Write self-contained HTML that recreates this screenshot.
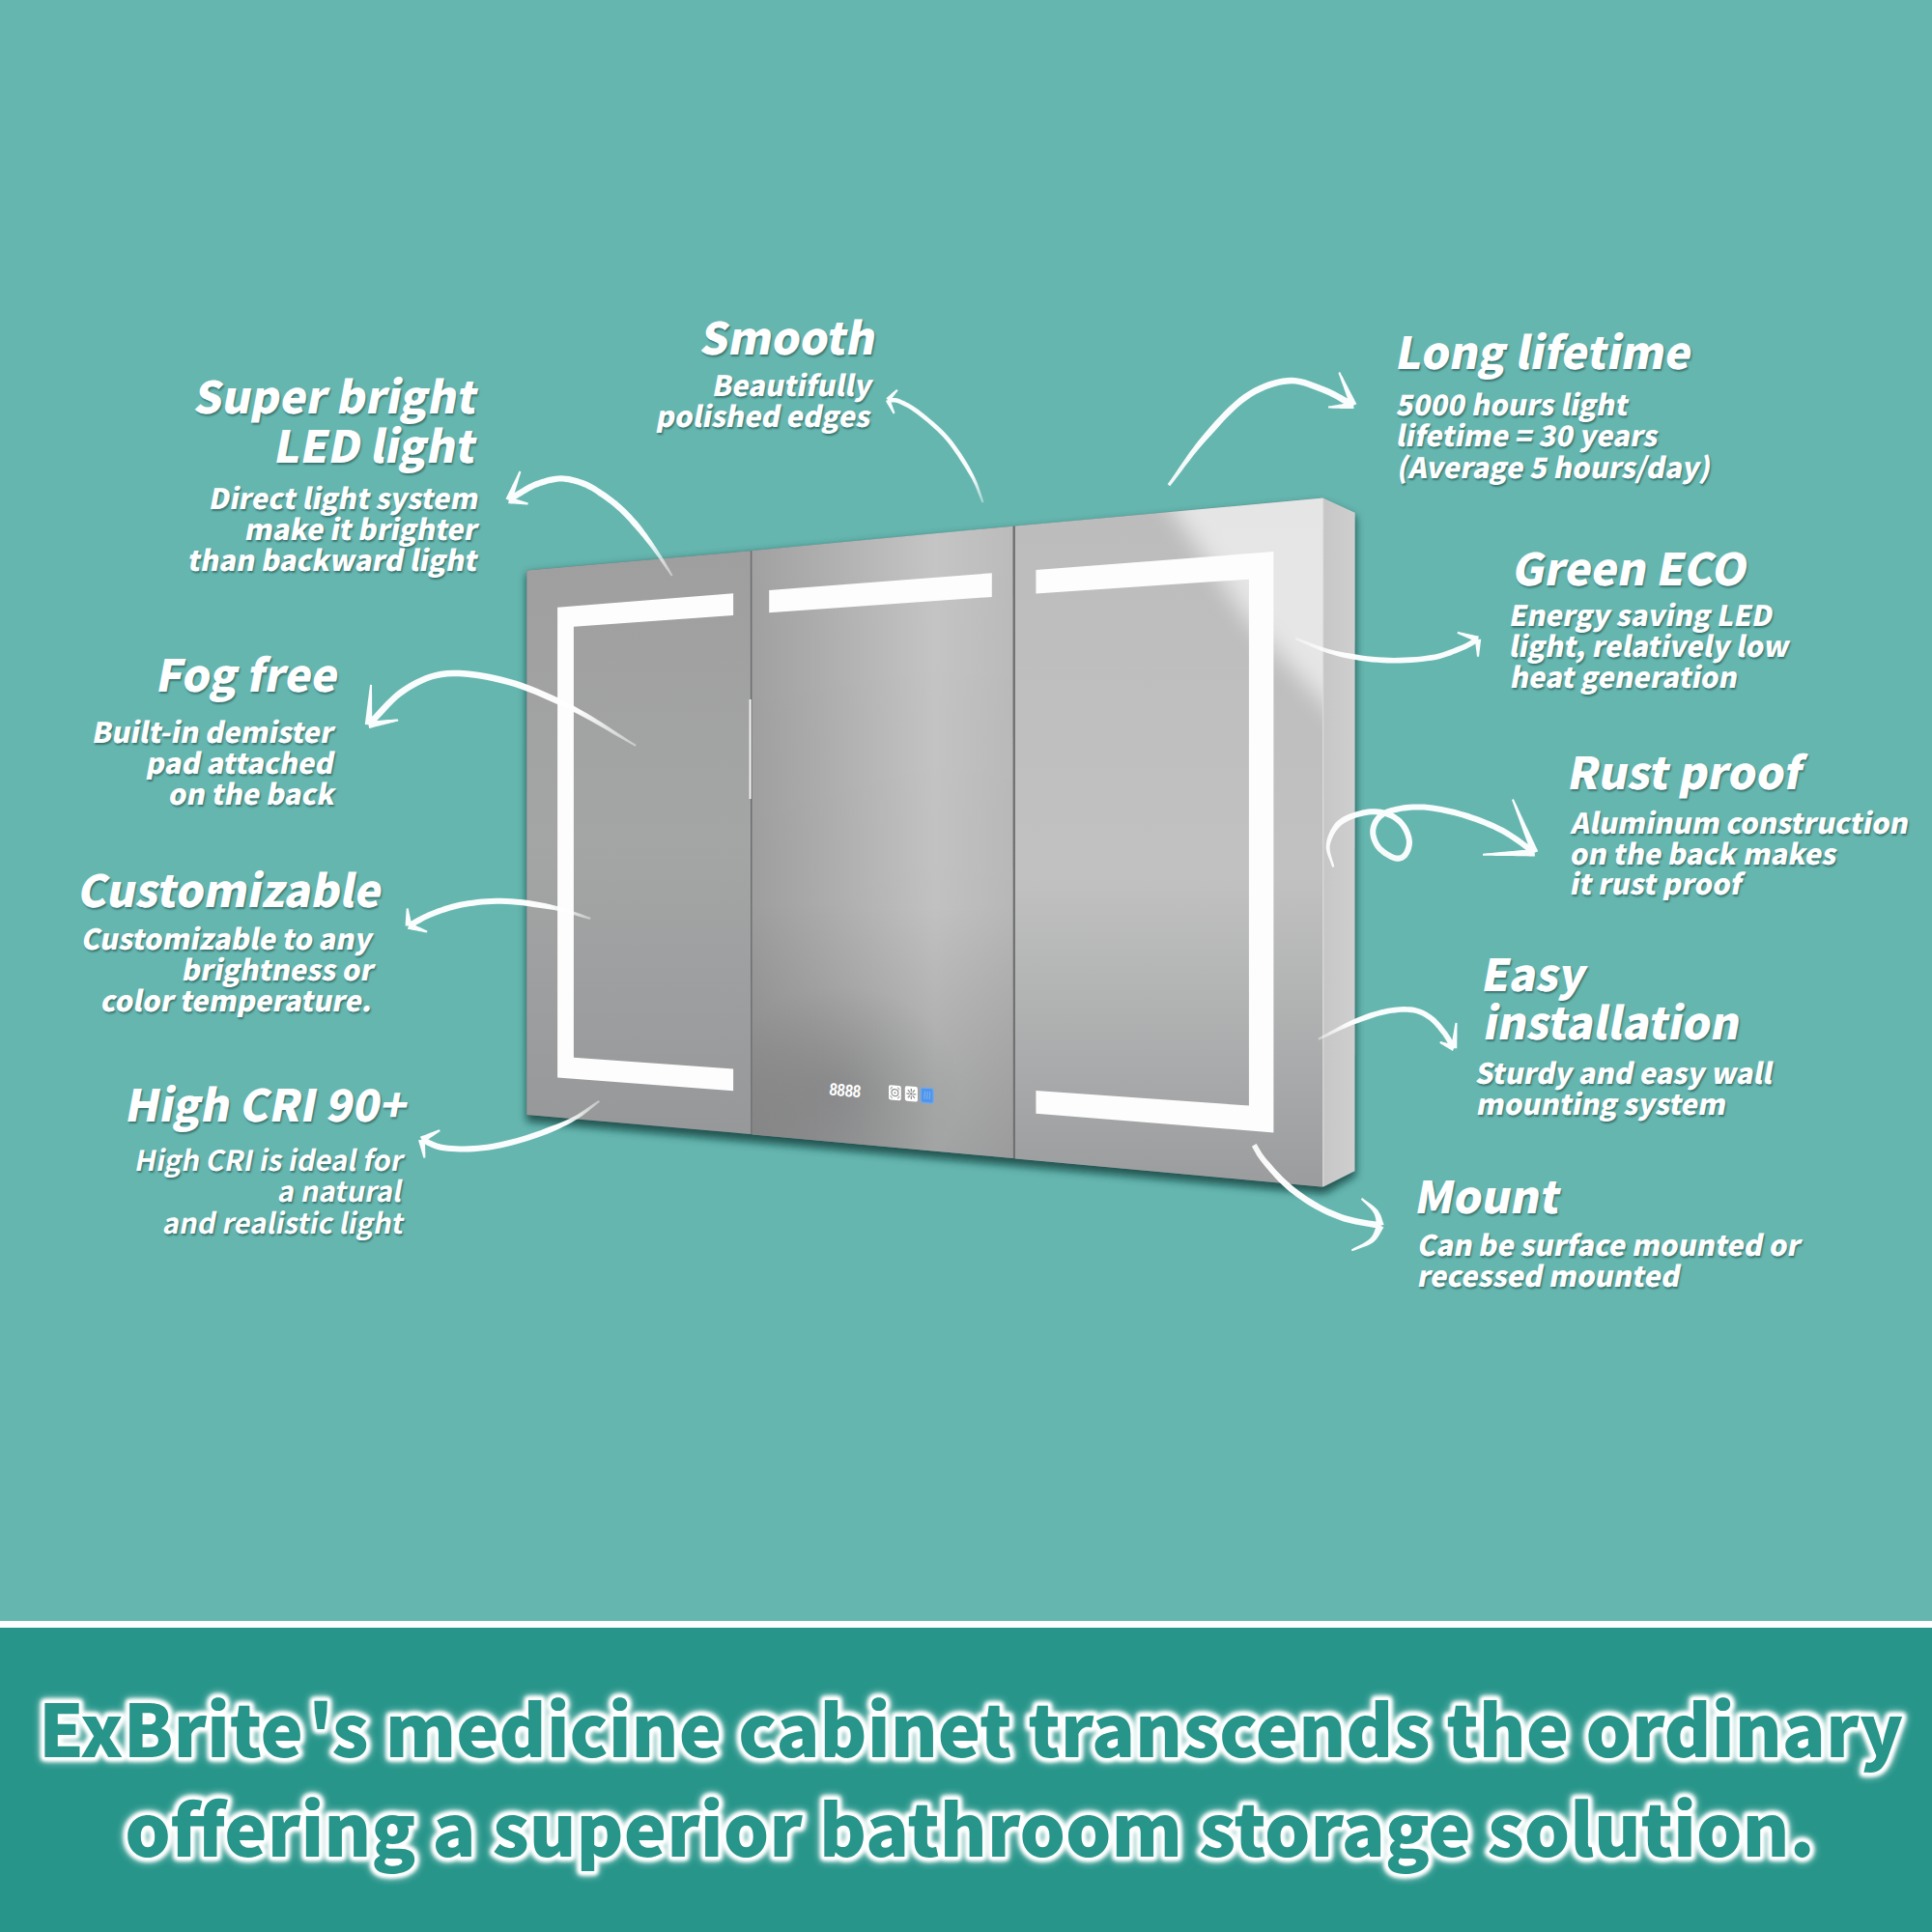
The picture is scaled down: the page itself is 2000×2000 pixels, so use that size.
<!DOCTYPE html>
<html lang="en"><head><meta charset="utf-8"><title>ExBrite medicine cabinet features</title>
<style>
html,body{margin:0;padding:0}
body{width:2000px;height:2000px;position:relative;overflow:hidden;background:#66b6b0;font-family:"Noto Sans CJK SC","Liberation Sans",sans-serif}
.t{position:absolute;white-space:nowrap;color:#fff;font-weight:900;transform:skewX(-10.5deg);transform-origin:0 50%;text-shadow:1.5px 2px 2px rgba(0,40,40,.45)}
.h{font-size:45.7px;line-height:60px}
.p{font-size:29.3px;line-height:40px}
.r{font-size:29.2px;line-height:40px;font-weight:700}
svg{position:absolute;left:0;top:0}
.line{position:absolute;left:0;top:1677.6px;width:2000px;height:7.7px;background:#fff}
.banner{position:absolute;left:0;top:1685.2px;width:2000px;height:314.8px;background:#27958a}
</style></head><body>
<svg width="2000" height="1677" viewBox="0 0 2000 1677">
<defs>
<filter id="sh" x="-5%" y="-5%" width="110%" height="112%"><feGaussianBlur stdDeviation="4.5"/></filter>
<filter id="hb" x="-30%" y="-30%" width="160%" height="160%"><feGaussianBlur stdDeviation="12"/></filter>
<linearGradient id="gL" x1="0" y1="0" x2="0" y2="1"><stop offset="0" stop-color="#9f9f9f"/><stop offset=".5" stop-color="#a4a5a5"/><stop offset="1" stop-color="#97989a"/></linearGradient>
<linearGradient id="gC" x1="0" y1="0" x2="1" y2="0"><stop offset="0" stop-color="#a1a1a1"/><stop offset=".25" stop-color="#adadad"/><stop offset=".7" stop-color="#c4c5c4"/><stop offset="1" stop-color="#bbbbbb"/></linearGradient>
<linearGradient id="gCd" x1="0" y1="0" x2="0" y2="1"><stop offset="0" stop-color="#000" stop-opacity="0"/><stop offset=".6" stop-color="#000" stop-opacity=".02"/><stop offset="1" stop-color="#1a1c22" stop-opacity=".2"/></linearGradient>
<linearGradient id="gR" x1="0" y1="0" x2="0" y2="1"><stop offset="0" stop-color="#bcbcbc"/><stop offset=".55" stop-color="#c0c1c0"/><stop offset="1" stop-color="#9b9c9e"/></linearGradient>
<linearGradient id="gS" x1="0" y1="0" x2="1" y2="0"><stop offset="0" stop-color="#c6c6c6"/><stop offset="1" stop-color="#cfcfcf"/></linearGradient>
<radialGradient id="gCb"><stop offset="0" stop-color="#15171c" stop-opacity=".12"/><stop offset="1" stop-color="#15171c" stop-opacity="0"/></radialGradient>
<clipPath id="cC"><polygon points="778.4,570 1048.5,544.7 1048.8,1199 778.6,1174.5"/></clipPath>
<clipPath id="cR"><polygon points="1050.7,544.6 1369.5,515.6 1369.7,1228.8 1050.7,1199.4"/></clipPath>
</defs>
<polygon points="545,594 1369,520 1403.5,535 1403.5,1217 1371,1236 545,1161" fill="#0b3a37" opacity=".78" filter="url(#sh)"/>
<polygon points="545.3,590.5 777.4,570.3 1049.5,544.7 1369.5,515.6 1369.7,1228.8 1049.5,1199.2 777.8,1174.2 545.3,1154" fill="#6d6e70"/>
<polygon points="545.3,590.5 776.8,570.3 777.2,1174 545.3,1154" fill="url(#gL)"/>
<polygon points="778.4,570 1048.5,544.7 1048.8,1199 778.6,1174.5" fill="url(#gC)"/>
<polygon points="778.4,570 1048.5,544.7 1048.8,1199 778.6,1174.5" fill="url(#gCd)"/>
<g clip-path="url(#cC)"><ellipse cx="870" cy="1125" rx="125" ry="105" fill="url(#gCb)"/></g>
<polygon points="1050.9,544.6 1369.5,515.6 1369.7,1228.8 1050.9,1199.4" fill="url(#gR)"/>
<g clip-path="url(#cR)"><polygon points="1180,480 1460,480 1460,800 1396,756 1290,640" fill="#fff" opacity=".62" filter="url(#hb)"/></g>
<polygon points="1369.5,515.6 1402.7,530.7 1402.5,1212.3 1369.7,1228.8" fill="url(#gS)"/>
<line x1="1369.6" y1="516" x2="1369.8" y2="1228" stroke="#dcdcdc" stroke-width="1.2"/>
<!-- LED strips -->
<path fill="#fdfdfd" d="M577.1,628.8 L759.1,614.2 L759.1,637 L593.9,648.7 L593.9,1094.7 L759.1,1106.5 L759.1,1129.3 L577.1,1115.6Z"/>
<path fill="#fdfdfd" d="M796.2,611 L1026.8,593.2 L1026.8,618 L796.2,634.3Z"/>
<path fill="#fdfdfd" d="M1072.4,590.1 L1318.4,571.1 L1318.4,1172.5 L1072.4,1152.8 L1072.4,1129 L1292.9,1144.6 L1292.9,599.7 L1072.4,614.6Z"/>
<rect x="775.6" y="724" width="2" height="103" fill="#f4f4f4"/>
<!-- display -->
<g transform="translate(858,1133.6) skewY(4.5) skewX(-6)"><text x="0" y="0" font-family="'Liberation Sans',sans-serif" font-weight="700" font-size="18" fill="#fff" textLength="32.5" lengthAdjust="spacingAndGlyphs">8888</text></g>
<g transform="translate(920,1123.1) skewY(4.5)">
<rect x="0" y="0" width="12.8" height="15.2" rx="2" fill="#fff"/>
<circle cx="6.4" cy="7.6" r="3.5" fill="none" stroke="#8f9092" stroke-width="1.2"/><circle cx="6.4" cy="7.6" r="1" fill="#8f9092"/>
<path d="M1.6,4.4 A6,6 0 0 1 3.8,1.8 M9,1.8 A6,6 0 0 1 11.2,4.4 M11.2,10.8 A6,6 0 0 1 9,13.4 M3.8,13.4 A6,6 0 0 1 1.6,10.8" stroke="#a5a6a8" stroke-width="1" fill="none"/>
</g>
<g transform="translate(936.8,1124.2) skewY(4.5)">
<rect x="0" y="0" width="13.1" height="15.4" rx="2" fill="#fff"/>
<g stroke="#8f9092" stroke-width="1.3" stroke-linecap="butt"><path d="M6.55,2.2v3.2M6.55,10v3.2M1.6,7.7h3.1M8.4,7.7h3.1M3,3.6l2.2,2.4M7.9,9.4l2.2,2.4M10.1,3.6l-2.2,2.4M5.2,9.4l-2.2,2.4"/></g>
<circle cx="6.55" cy="7.7" r="1.3" fill="#8f9092"/>
</g>
<g transform="translate(953.3,1125.9) skewY(4.5)">
<rect x="0" y="0" width="12.8" height="15.3" rx="2" fill="#4f95ea" stroke="#6eaaf2" stroke-width="1.2"/>
<path d="M4,3.5c1.2,2 -1.2,3.5 0,8M6.6,3.5c1.2,2 -1.2,3.5 0,8M9.2,3.5c1.2,2 -1.2,3.5 0,8" stroke="#7db4f5" stroke-width="1" fill="none"/>
</g>

</svg>
<div class="t h" style="left:202.6px;top:378.1px">Super bright</div>
<div class="t h" style="left:286.4px;top:429.4px">LED light</div>
<div class="t p" style="left:217.6px;top:493.7px">Direct light system</div>
<div class="t p" style="left:254.6px;top:526.0px">make it brighter</div>
<div class="t p" style="left:196.1px;top:558.3px">than backward light</div>
<div class="t h" style="left:726.5px;top:317.2px">Smooth</div>
<div class="t p" style="left:738.5px;top:377.3px">Beautifully</div>
<div class="t p" style="left:681.3px;top:409.1px">polished edges</div>
<div class="t h" style="left:164.3px;top:665.6px">Fog free</div>
<div class="t p" style="left:97.4px;top:735.7px">Built-in demister</div>
<div class="t p" style="left:152.8px;top:767.7px">pad attached</div>
<div class="t p" style="left:175.8px;top:799.5px">on the back</div>
<div class="t h" style="left:82.5px;top:888.6px">Customizable</div>
<div class="t p" style="left:86.2px;top:949.8px">Customizable to any</div>
<div class="t p" style="left:190.1px;top:982.2px">brightness or</div>
<div class="t p" style="left:106.2px;top:1014.4px">color temperature.</div>
<div class="t h" style="left:131.6px;top:1110.6px">High CRI 90+</div>
<div class="t r" style="left:141.2px;top:1179.1px">High CRI is ideal for</div>
<div class="t r" style="left:288.7px;top:1211.3px">a natural</div>
<div class="t r" style="left:169.5px;top:1243.6px">and realistic light</div>
<div class="t h" style="left:1447.1px;top:331.6px">Long lifetime</div>
<div class="t p" style="left:1446.5px;top:397.2px">5000 hours light</div>
<div class="t p" style="left:1446.9px;top:429.2px">lifetime = 30 years</div>
<div class="t p" style="left:1447.8px;top:461.7px">(Average 5 hours/day)</div>
<div class="t h" style="left:1567.8px;top:555.9px">Green ECO</div>
<div class="t p" style="left:1563.5px;top:614.9px">Energy saving LED</div>
<div class="t p" style="left:1564.1px;top:647.4px">light, relatively low</div>
<div class="t p" style="left:1564.8px;top:679.4px">heat generation</div>
<div class="t h" style="left:1624.7px;top:766.7px">Rust proof</div>
<div class="t p" style="left:1628.3px;top:829.6px">Aluminum construction</div>
<div class="t p" style="left:1626.9px;top:861.7px">on the back makes</div>
<div class="t p" style="left:1626.7px;top:893.4px">it rust proof</div>
<div class="t h" style="left:1536.1px;top:975.7px">Easy</div>
<div class="t h" style="left:1538.3px;top:1026.0px">installation</div>
<div class="t p" style="left:1529.3px;top:1089.4px">Sturdy and easy wall</div>
<div class="t p" style="left:1529.7px;top:1121.2px">mounting system</div>
<div class="t h" style="left:1466.6px;top:1206.1px">Mount</div>
<div class="t p" style="left:1468.5px;top:1266.5px">Can be surface mounted or</div>
<div class="t p" style="left:1469.4px;top:1298.6px">recessed mounted</div>
<svg width="2000" height="1677" viewBox="0 0 2000 1677">
<defs><filter id="ab" x="-2%" y="-2%" width="104%" height="104%"><feGaussianBlur stdDeviation=".6"/></filter>
<linearGradient id="ag0" gradientUnits="userSpaceOnUse" x1="696" y1="596" x2="670" y2="558"><stop offset="0" stop-color="#fff" stop-opacity="0.4"/><stop offset="1" stop-color="#fff" stop-opacity=".97"/></linearGradient>
<linearGradient id="ag1" gradientUnits="userSpaceOnUse" x1="1018" y1="520" x2="1006" y2="492"><stop offset="0" stop-color="#fff" stop-opacity="0.4"/><stop offset="1" stop-color="#fff" stop-opacity=".97"/></linearGradient>
<linearGradient id="ag2" gradientUnits="userSpaceOnUse" x1="1210" y1="502" x2="1242" y2="460"><stop offset="0" stop-color="#fff" stop-opacity="0.9"/><stop offset="1" stop-color="#fff" stop-opacity=".97"/></linearGradient>
<linearGradient id="ag3" gradientUnits="userSpaceOnUse" x1="658" y1="772" x2="599" y2="737"><stop offset="0" stop-color="#fff" stop-opacity="0.4"/><stop offset="1" stop-color="#fff" stop-opacity=".97"/></linearGradient>
<linearGradient id="ag4" gradientUnits="userSpaceOnUse" x1="611" y1="951" x2="569" y2="939"><stop offset="0" stop-color="#fff" stop-opacity="0.4"/><stop offset="1" stop-color="#fff" stop-opacity=".97"/></linearGradient>
<linearGradient id="ag5" gradientUnits="userSpaceOnUse" x1="620" y1="1140" x2="586" y2="1162"><stop offset="0" stop-color="#fff" stop-opacity="0.4"/><stop offset="1" stop-color="#fff" stop-opacity=".97"/></linearGradient>
<linearGradient id="ag6" gradientUnits="userSpaceOnUse" x1="1341" y1="661" x2="1382" y2="676"><stop offset="0" stop-color="#fff" stop-opacity="0.4"/><stop offset="1" stop-color="#fff" stop-opacity=".97"/></linearGradient>
<linearGradient id="ag7" gradientUnits="userSpaceOnUse" x1="1380" y1="898" x2="1414" y2="841"><stop offset="0" stop-color="#fff" stop-opacity="0.9"/><stop offset="1" stop-color="#fff" stop-opacity=".97"/></linearGradient>
<linearGradient id="ag8" gradientUnits="userSpaceOnUse" x1="1365" y1="1076" x2="1397" y2="1060"><stop offset="0" stop-color="#fff" stop-opacity="0.4"/><stop offset="1" stop-color="#fff" stop-opacity=".97"/></linearGradient>
<linearGradient id="ag9" gradientUnits="userSpaceOnUse" x1="1298" y1="1185" x2="1317" y2="1211"><stop offset="0" stop-color="#fff" stop-opacity="0.9"/><stop offset="1" stop-color="#fff" stop-opacity=".97"/></linearGradient>
</defs><g filter="url(#ab)">
<path fill="url(#ag0)" d="M696.6,595.4 L695.0,592.7 L693.4,589.9 L691.8,587.2 L690.1,584.5 L688.5,581.7 L686.9,579.0 L685.2,576.2 L683.4,573.5 L681.6,570.7 L679.8,567.8 L677.9,565.0 L675.9,562.0 L673.9,559.1 L671.9,556.2 L669.9,553.3 L667.8,550.5 L665.8,547.8 L663.8,545.1 L661.8,542.6 L659.8,540.1 L657.7,537.7 L655.6,535.4 L653.5,533.1 L651.4,530.9 L649.4,528.8 L647.3,526.7 L645.1,524.7 L643.0,522.8 L640.9,520.9 L638.8,519.1 L636.6,517.4 L634.5,515.8 L632.4,514.2 L630.2,512.6 L628.1,511.1 L626.0,509.6 L623.9,508.2 L621.8,506.8 L619.7,505.4 L617.6,504.0 L615.5,502.7 L613.3,501.4 L611.0,500.2 L608.6,499.1 L606.2,498.1 L603.6,497.1 L601.0,496.2 L598.2,495.3 L595.4,494.5 L592.5,493.8 L589.6,493.1 L586.6,492.7 L583.7,492.4 L580.7,492.3 L577.7,492.4 L574.7,492.7 L571.7,493.2 L568.7,493.8 L565.8,494.6 L562.9,495.4 L560.1,496.3 L557.5,497.2 L554.9,498.1 L552.4,499.0 L549.9,500.2 L547.6,501.3 L545.3,502.6 L543.1,503.8 L541.1,505.1 L539.2,506.2 L537.4,507.3 L535.7,508.3 L534.2,509.2 L532.8,510.1 L531.5,510.9 L530.3,511.6 L529.2,512.3 L528.2,513.1 L527.2,513.7 L526.1,514.4 L525.0,515.2 L528.4,520.4 L529.6,519.7 L530.6,519.0 L531.7,518.2 L532.7,517.6 L533.8,516.9 L534.9,516.1 L536.0,515.4 L537.4,514.6 L538.9,513.7 L540.6,512.7 L542.4,511.6 L544.3,510.4 L546.3,509.2 L548.4,508.1 L550.5,506.9 L552.6,505.8 L554.8,504.8 L557.1,503.9 L559.5,503.1 L562.1,502.2 L564.7,501.4 L567.4,500.6 L570.1,499.9 L572.9,499.4 L575.5,498.9 L578.2,498.6 L580.7,498.5 L583.2,498.6 L585.8,498.9 L588.4,499.3 L591.1,499.9 L593.7,500.5 L596.4,501.3 L598.9,502.1 L601.5,503.0 L603.8,503.9 L606.1,504.8 L608.2,505.9 L610.3,506.9 L612.3,508.1 L614.3,509.3 L616.3,510.6 L618.3,512.0 L620.3,513.4 L622.4,514.8 L624.5,516.2 L626.6,517.7 L628.6,519.2 L630.7,520.7 L632.7,522.3 L634.8,524.0 L636.8,525.7 L638.8,527.4 L640.9,529.3 L642.9,531.2 L644.9,533.2 L646.9,535.3 L649.0,537.4 L651.0,539.6 L653.0,541.9 L655.0,544.2 L657.1,546.5 L659.2,548.9 L661.3,551.3 L663.5,553.9 L665.7,556.5 L667.8,559.2 L670.0,562.0 L672.2,564.8 L674.3,567.5 L676.3,570.3 L678.4,572.9 L680.3,575.6 L682.2,578.2 L684.0,580.8 L685.8,583.5 L687.6,586.1 L689.4,588.7 L691.2,591.3 L693.0,594.0 L694.8,596.6Z M529.9,519.1 L530.7,516.5 L531.5,514.0 L532.3,511.4 L533.1,508.8 L533.9,506.3 L534.7,503.7 L535.5,501.2 L536.3,498.6 L537.0,496.0 L537.8,493.5 L538.6,490.9 L539.4,488.4 L537.6,487.6 L536.4,490.0 L535.2,492.4 L534.1,494.9 L532.9,497.3 L531.7,499.7 L530.5,502.1 L529.4,504.5 L528.2,506.9 L527.0,509.3 L525.8,511.7 L524.7,514.1 L523.5,516.5Z M526.1,521.2 L527.8,521.3 L529.5,521.4 L531.2,521.5 L532.9,521.6 L534.5,521.7 L536.2,521.8 L537.9,521.9 L539.6,522.1 L541.3,522.2 L543.0,522.3 L544.7,522.4 L546.4,522.5 L546.8,520.5 L545.2,520.0 L543.5,519.5 L541.9,519.0 L540.3,518.5 L538.7,518.0 L537.1,517.5 L535.4,517.0 L533.8,516.4 L532.2,515.9 L530.6,515.4 L529.0,514.9 L527.3,514.4Z"/>
<path fill="url(#ag1)" d="M1018.5,519.6 L1017.4,516.5 L1016.4,513.5 L1015.4,510.5 L1014.4,507.5 L1013.4,504.4 L1012.2,501.3 L1010.9,498.0 L1009.3,494.5 L1007.5,490.9 L1005.5,487.0 L1003.2,482.8 L1000.7,478.5 L997.9,474.0 L995.0,469.6 L992.0,465.2 L989.0,460.9 L985.9,456.8 L982.8,453.1 L979.7,449.5 L976.4,446.0 L973.0,442.7 L969.5,439.5 L966.1,436.5 L962.7,433.7 L959.5,431.0 L956.4,428.5 L953.5,426.2 L950.7,424.1 L948.1,422.2 L945.5,420.5 L943.0,419.0 L940.7,417.6 L938.4,416.4 L936.3,415.3 L934.2,414.4 L932.2,413.5 L930.4,412.8 L928.6,412.3 L926.9,412.0 L925.4,411.9 L924.1,411.9 L922.8,411.9 L921.6,411.9 L920.5,411.9 L919.2,411.8 L918.8,416.2 L920.2,416.4 L921.6,416.4 L922.9,416.4 L924.0,416.4 L925.2,416.4 L926.4,416.5 L927.6,416.7 L929.0,417.1 L930.6,417.7 L932.4,418.5 L934.3,419.4 L936.3,420.4 L938.5,421.6 L940.7,422.8 L943.1,424.3 L945.5,425.9 L948.1,427.7 L950.7,429.8 L953.6,432.0 L956.7,434.5 L959.9,437.1 L963.2,439.9 L966.5,442.9 L969.9,446.0 L973.2,449.2 L976.4,452.5 L979.4,455.9 L982.3,459.6 L985.3,463.6 L988.3,467.8 L991.3,472.1 L994.1,476.5 L996.9,480.8 L999.6,485.0 L1002.0,489.0 L1004.3,492.7 L1006.2,496.1 L1007.8,499.4 L1009.3,502.5 L1010.6,505.5 L1011.7,508.4 L1012.9,511.4 L1014.0,514.3 L1015.2,517.3 L1016.5,520.4Z M920.7,415.7 L921.5,414.7 L922.2,413.8 L923.0,412.8 L923.7,411.9 L924.4,410.9 L925.2,410.0 L925.9,409.0 L926.7,408.1 L927.4,407.1 L928.1,406.2 L928.9,405.2 L929.6,404.3 L928.2,402.9 L927.3,403.7 L926.4,404.5 L925.4,405.3 L924.5,406.1 L923.6,406.8 L922.7,407.6 L921.8,408.4 L920.9,409.2 L920.0,410.0 L919.1,410.8 L918.2,411.5 L917.3,412.3Z M916.8,415.0 L917.5,416.1 L918.1,417.3 L918.8,418.4 L919.4,419.5 L920.1,420.6 L920.8,421.7 L921.4,422.8 L922.1,424.0 L922.7,425.1 L923.4,426.2 L924.0,427.3 L924.7,428.4 L926.5,427.6 L926.1,426.4 L925.6,425.1 L925.2,423.9 L924.7,422.7 L924.3,421.5 L923.8,420.3 L923.4,419.1 L923.0,417.8 L922.5,416.6 L922.1,415.4 L921.6,414.2 L921.2,413.0Z"/>
<path fill="url(#ag2)" d="M1211.2,503.3 L1215.3,498.0 L1219.3,492.7 L1223.3,487.4 L1227.3,482.1 L1231.3,476.9 L1235.4,471.6 L1239.5,466.5 L1243.7,461.4 L1248.1,456.4 L1252.7,451.4 L1257.5,446.2 L1262.2,440.9 L1267.1,435.6 L1272.0,430.5 L1276.9,425.7 L1281.7,421.2 L1286.5,417.2 L1291.3,413.7 L1296.0,410.6 L1300.7,407.8 L1305.5,405.4 L1310.3,403.3 L1315.1,401.5 L1319.8,400.0 L1324.4,398.8 L1328.9,398.0 L1333.2,397.4 L1337.3,397.3 L1341.3,397.6 L1345.3,398.3 L1349.3,399.3 L1353.3,400.5 L1357.2,402.0 L1361.2,403.5 L1365.1,405.0 L1368.9,406.5 L1372.5,408.0 L1376.0,409.6 L1379.4,411.3 L1382.8,413.1 L1386.1,414.9 L1389.4,416.9 L1392.8,418.8 L1396.2,420.7 L1399.7,422.6 L1402.7,416.8 L1399.3,415.0 L1396.0,413.1 L1392.7,411.2 L1389.3,409.3 L1385.9,407.4 L1382.4,405.5 L1378.8,403.7 L1375.1,402.0 L1371.3,400.5 L1367.5,399.0 L1363.6,397.4 L1359.5,395.9 L1355.4,394.4 L1351.1,393.0 L1346.7,391.9 L1342.1,391.2 L1337.4,390.8 L1332.6,391.0 L1327.8,391.6 L1323.0,392.5 L1318.0,393.8 L1312.9,395.3 L1307.8,397.3 L1302.7,399.5 L1297.6,402.1 L1292.6,405.1 L1287.5,408.3 L1282.5,412.1 L1277.4,416.4 L1272.4,421.0 L1267.3,426.0 L1262.4,431.2 L1257.4,436.5 L1252.6,441.9 L1248.1,447.3 L1243.7,452.6 L1239.4,457.8 L1235.3,463.2 L1231.3,468.6 L1227.5,474.0 L1223.7,479.5 L1219.9,485.0 L1216.2,490.5 L1212.4,495.9 L1208.6,501.3Z M1404.4,418.3 L1402.9,415.6 L1401.5,412.8 L1400.1,410.0 L1398.6,407.2 L1397.2,404.5 L1395.8,401.7 L1394.4,398.9 L1392.9,396.2 L1391.5,393.4 L1390.1,390.6 L1388.6,387.9 L1387.2,385.1 L1385.4,385.9 L1386.4,388.8 L1387.5,391.8 L1388.5,394.7 L1389.6,397.6 L1390.7,400.6 L1391.7,403.5 L1392.8,406.4 L1393.8,409.4 L1394.9,412.3 L1395.9,415.2 L1397.0,418.1 L1398.0,421.1Z M1400.9,416.3 L1398.8,416.6 L1396.6,417.0 L1394.5,417.3 L1392.3,417.7 L1390.1,418.1 L1388.0,418.4 L1385.8,418.8 L1383.7,419.2 L1381.5,419.5 L1379.3,419.9 L1377.2,420.2 L1375.0,420.6 L1375.2,422.6 L1377.4,422.6 L1379.6,422.7 L1381.7,422.7 L1383.9,422.8 L1386.1,422.8 L1388.3,422.9 L1390.5,422.9 L1392.7,423.0 L1394.9,423.0 L1397.1,423.1 L1399.3,423.1 L1401.5,423.1Z"/>
<path fill="url(#ag3)" d="M658.7,771.0 L651.4,766.4 L644.2,761.7 L636.9,757.0 L629.7,752.3 L622.4,747.6 L615.1,743.1 L607.8,738.6 L600.5,734.4 L593.2,730.3 L585.9,726.5 L578.5,722.8 L571.0,719.3 L563.5,715.9 L556.1,712.8 L548.6,709.8 L541.2,707.1 L533.8,704.6 L526.5,702.5 L519.1,700.6 L511.7,698.8 L504.3,697.3 L496.9,696.0 L489.6,695.0 L482.5,694.2 L475.5,693.8 L468.8,693.7 L462.4,694.1 L456.4,694.8 L450.6,695.9 L445.2,697.4 L440.0,699.2 L435.0,701.4 L430.1,703.7 L425.4,706.3 L420.8,709.1 L416.2,712.0 L411.6,715.3 L407.2,719.0 L403.0,722.9 L398.9,727.0 L394.9,731.3 L391.0,735.6 L387.1,739.8 L383.2,744.0 L379.2,748.0 L383.8,752.6 L387.9,748.5 L391.8,744.2 L395.8,739.9 L399.7,735.7 L403.6,731.5 L407.5,727.5 L411.5,723.8 L415.6,720.4 L419.8,717.4 L424.2,714.6 L428.6,711.9 L433.1,709.5 L437.7,707.3 L442.3,705.3 L447.1,703.6 L452.1,702.3 L457.4,701.2 L463.0,700.5 L468.9,700.2 L475.3,700.3 L481.9,700.7 L488.8,701.4 L495.9,702.4 L503.1,703.7 L510.3,705.2 L517.6,706.9 L524.7,708.7 L531.8,710.8 L539.0,713.2 L546.3,715.9 L553.6,718.8 L561.0,721.9 L568.3,725.2 L575.7,728.6 L583.2,732.0 L590.6,735.5 L598.0,739.1 L605.4,742.9 L612.8,747.0 L620.2,751.2 L627.7,755.5 L635.1,759.9 L642.6,764.3 L650.1,768.6 L657.5,772.8Z M385.2,750.5 L385.2,747.1 L385.2,743.6 L385.2,740.1 L385.2,736.7 L385.1,733.2 L385.1,729.7 L385.1,726.3 L385.1,722.8 L385.1,719.4 L385.0,715.9 L385.0,712.4 L385.0,709.0 L383.0,708.8 L382.6,712.3 L382.1,715.7 L381.7,719.1 L381.3,722.6 L380.8,726.0 L380.4,729.5 L379.9,732.9 L379.5,736.3 L379.1,739.8 L378.6,743.2 L378.2,746.6 L377.8,750.1Z M382.1,754.0 L384.6,753.4 L387.1,752.7 L389.7,752.1 L392.2,751.5 L394.7,750.8 L397.2,750.2 L399.7,749.6 L402.3,748.9 L404.8,748.3 L407.3,747.7 L409.8,747.0 L412.4,746.4 L412.0,744.4 L409.4,744.6 L406.9,744.8 L404.3,745.0 L401.7,745.1 L399.1,745.3 L396.5,745.5 L393.9,745.7 L391.3,745.9 L388.7,746.1 L386.1,746.2 L383.5,746.4 L380.9,746.6Z"/>
<path fill="url(#ag4)" d="M611.5,949.8 L607.5,948.5 L603.6,947.0 L599.7,945.6 L595.8,944.2 L591.9,942.7 L587.8,941.3 L583.6,940.0 L579.1,938.7 L574.4,937.5 L569.4,936.3 L564.1,935.1 L558.5,933.9 L552.8,932.9 L547.0,932.1 L541.1,931.3 L535.4,930.7 L529.7,930.2 L524.3,929.9 L519.1,929.7 L513.9,929.8 L508.7,929.9 L503.7,930.2 L498.7,930.6 L493.9,931.1 L489.2,931.7 L484.6,932.3 L480.2,933.0 L475.9,933.8 L471.7,934.8 L467.7,935.8 L463.7,936.9 L460.0,938.1 L456.3,939.4 L452.8,940.6 L449.4,941.9 L446.1,943.2 L442.9,944.5 L439.9,945.9 L437.1,947.3 L434.4,948.7 L431.8,950.1 L429.2,951.5 L426.7,953.0 L424.2,954.3 L421.6,955.7 L424.4,961.1 L427.1,959.7 L429.7,958.2 L432.2,956.8 L434.7,955.4 L437.2,954.0 L439.8,952.6 L442.5,951.3 L445.3,950.0 L448.3,948.8 L451.5,947.6 L454.9,946.3 L458.3,945.1 L461.8,943.9 L465.5,942.7 L469.2,941.7 L473.1,940.7 L477.1,939.8 L481.2,939.0 L485.5,938.3 L490.0,937.7 L494.6,937.1 L499.3,936.6 L504.1,936.2 L509.0,936.0 L514.0,935.8 L519.0,935.8 L524.1,935.9 L529.3,936.2 L534.8,936.7 L540.4,937.3 L546.1,938.0 L551.9,938.9 L557.5,939.7 L563.1,940.5 L568.4,941.3 L573.4,942.1 L578.1,943.0 L582.5,944.0 L586.7,945.0 L590.8,946.1 L594.8,947.3 L598.7,948.5 L602.7,949.7 L606.7,950.8 L610.9,952.0Z M426.4,958.2 L426.1,956.7 L425.8,955.2 L425.5,953.7 L425.2,952.2 L424.9,950.7 L424.6,949.2 L424.3,947.8 L423.9,946.3 L423.6,944.8 L423.3,943.3 L423.0,941.8 L422.7,940.3 L420.7,940.5 L420.6,942.0 L420.5,943.5 L420.4,945.0 L420.3,946.5 L420.2,948.0 L420.1,949.6 L420.0,951.1 L419.9,952.6 L419.8,954.1 L419.7,955.6 L419.7,957.1 L419.6,958.6Z M421.9,961.7 L423.6,962.0 L425.3,962.3 L426.9,962.7 L428.6,963.0 L430.3,963.3 L431.9,963.6 L433.6,963.9 L435.2,964.3 L436.9,964.6 L438.6,964.9 L440.2,965.2 L441.9,965.6 L442.5,963.6 L441.0,962.9 L439.4,962.2 L437.9,961.5 L436.4,960.8 L434.8,960.1 L433.3,959.4 L431.7,958.7 L430.2,958.0 L428.7,957.2 L427.1,956.5 L425.6,955.8 L424.1,955.1Z"/>
<path fill="url(#ag5)" d="M619.8,1139.0 L616.5,1141.1 L613.3,1143.3 L610.2,1145.5 L607.2,1147.6 L604.0,1149.7 L600.8,1151.8 L597.4,1153.9 L593.7,1155.9 L589.8,1157.9 L585.4,1159.9 L580.7,1161.9 L575.7,1163.9 L570.6,1165.8 L565.3,1167.8 L560.0,1169.9 L554.7,1171.8 L549.5,1173.6 L544.4,1175.2 L539.4,1176.7 L534.3,1178.2 L529.1,1179.5 L524.0,1180.8 L518.9,1181.9 L513.9,1183.0 L508.9,1183.9 L504.1,1184.7 L499.3,1185.3 L494.7,1185.8 L490.0,1186.1 L485.3,1186.3 L480.7,1186.4 L476.2,1186.4 L471.9,1186.3 L467.7,1186.1 L463.9,1185.7 L460.3,1185.3 L457.2,1184.8 L454.4,1184.1 L451.9,1183.3 L449.5,1182.3 L447.3,1181.3 L445.0,1180.2 L442.7,1179.1 L440.2,1178.0 L437.6,1177.0 L435.4,1182.6 L437.8,1183.6 L440.1,1184.6 L442.4,1185.7 L444.7,1186.8 L447.2,1187.9 L449.9,1188.9 L452.8,1189.9 L456.0,1190.7 L459.5,1191.3 L463.3,1191.7 L467.3,1192.1 L471.6,1192.3 L476.1,1192.5 L480.7,1192.5 L485.5,1192.4 L490.3,1192.2 L495.2,1191.8 L500.1,1191.3 L505.0,1190.7 L510.0,1189.9 L515.1,1188.9 L520.2,1187.9 L525.4,1186.7 L530.6,1185.4 L535.9,1184.0 L541.1,1182.5 L546.2,1181.0 L551.4,1179.3 L556.7,1177.5 L562.1,1175.5 L567.5,1173.5 L572.8,1171.3 L577.9,1168.9 L582.8,1166.6 L587.5,1164.2 L591.8,1161.9 L595.8,1159.6 L599.5,1157.3 L602.9,1154.9 L606.0,1152.5 L609.1,1150.2 L612.0,1147.8 L614.9,1145.5 L617.9,1143.1 L621.0,1140.8Z M438.1,1182.9 L439.6,1181.9 L441.0,1180.9 L442.5,1179.9 L444.0,1178.9 L445.4,1177.9 L446.9,1176.9 L448.4,1175.9 L449.9,1174.9 L451.3,1174.0 L452.8,1173.0 L454.3,1172.0 L455.8,1171.0 L454.8,1169.2 L453.2,1169.8 L451.5,1170.5 L449.9,1171.1 L448.2,1171.7 L446.5,1172.3 L444.9,1173.0 L443.2,1173.6 L441.6,1174.2 L439.9,1174.9 L438.2,1175.5 L436.6,1176.1 L434.9,1176.7Z M433.1,1180.3 L433.5,1181.9 L434.0,1183.4 L434.4,1184.9 L434.9,1186.5 L435.3,1188.0 L435.8,1189.5 L436.2,1191.1 L436.6,1192.6 L437.1,1194.1 L437.5,1195.7 L438.0,1197.2 L438.4,1198.8 L440.4,1198.4 L440.3,1196.8 L440.3,1195.3 L440.3,1193.7 L440.2,1192.1 L440.2,1190.5 L440.1,1188.9 L440.1,1187.3 L440.1,1185.7 L440.0,1184.1 L440.0,1182.5 L439.9,1180.9 L439.9,1179.3Z"/>
<path fill="url(#ag6)" d="M1340.7,662.1 L1345.2,664.0 L1349.5,665.8 L1353.9,667.7 L1358.2,669.7 L1362.6,671.6 L1367.1,673.4 L1371.8,675.2 L1376.5,676.8 L1381.5,678.3 L1386.7,679.7 L1392.0,681.0 L1397.5,682.1 L1403.1,683.1 L1408.8,684.0 L1414.6,684.7 L1420.3,685.4 L1426.0,685.8 L1431.7,686.2 L1437.4,686.4 L1443.2,686.5 L1449.1,686.4 L1455.0,686.2 L1460.9,685.9 L1466.6,685.4 L1472.0,684.9 L1477.2,684.3 L1481.9,683.7 L1486.4,682.9 L1490.6,681.9 L1494.5,680.8 L1498.2,679.6 L1501.7,678.4 L1504.9,677.1 L1507.9,675.9 L1510.8,674.7 L1513.6,673.6 L1516.2,672.5 L1518.5,671.4 L1520.6,670.3 L1522.6,669.3 L1524.4,668.2 L1526.1,667.2 L1527.8,666.2 L1529.5,665.2 L1531.4,664.2 L1528.6,659.2 L1526.8,660.3 L1524.9,661.3 L1523.2,662.4 L1521.5,663.4 L1519.8,664.4 L1518.0,665.4 L1516.1,666.4 L1513.9,667.4 L1511.4,668.4 L1508.7,669.5 L1505.8,670.7 L1502.8,671.9 L1499.7,673.1 L1496.4,674.3 L1492.9,675.4 L1489.2,676.5 L1485.3,677.4 L1481.1,678.1 L1476.4,678.8 L1471.4,679.4 L1466.1,679.9 L1460.5,680.3 L1454.8,680.6 L1449.0,680.8 L1443.2,680.9 L1437.5,680.8 L1431.9,680.6 L1426.4,680.3 L1420.9,679.8 L1415.2,679.2 L1409.6,678.4 L1404.0,677.6 L1398.5,676.6 L1393.1,675.7 L1387.8,674.8 L1382.7,673.7 L1377.8,672.5 L1373.1,671.2 L1368.4,669.8 L1363.9,668.2 L1359.5,666.6 L1355.0,664.9 L1350.6,663.3 L1346.1,661.6 L1341.5,660.1Z M1531.0,658.7 L1529.2,658.3 L1527.3,657.9 L1525.5,657.5 L1523.7,657.1 L1521.9,656.7 L1520.0,656.3 L1518.2,655.9 L1516.4,655.5 L1514.6,655.1 L1512.8,654.7 L1510.9,654.3 L1509.1,653.8 L1508.5,655.8 L1510.2,656.5 L1511.9,657.2 L1513.6,658.0 L1515.3,658.7 L1517.0,659.5 L1518.8,660.2 L1520.5,661.0 L1522.2,661.7 L1523.9,662.5 L1525.6,663.2 L1527.3,664.0 L1529.0,664.7Z M1526.8,661.7 L1527.0,663.2 L1527.2,664.7 L1527.4,666.2 L1527.6,667.7 L1527.7,669.2 L1527.9,670.7 L1528.1,672.2 L1528.3,673.7 L1528.5,675.2 L1528.6,676.7 L1528.8,678.2 L1529.0,679.7 L1531.0,679.7 L1531.2,678.2 L1531.4,676.7 L1531.5,675.2 L1531.7,673.7 L1531.9,672.2 L1532.1,670.7 L1532.3,669.2 L1532.4,667.7 L1532.6,666.2 L1532.8,664.7 L1533.0,663.2 L1533.2,661.7Z"/>
<path fill="url(#ag7)" d="M1381.3,897.2 L1380.7,894.6 L1379.9,892.0 L1379.1,889.4 L1378.3,886.8 L1377.6,884.3 L1377.0,881.8 L1376.7,879.4 L1376.6,877.1 L1376.8,874.9 L1377.4,872.5 L1378.2,870.0 L1379.2,867.4 L1380.4,864.8 L1381.9,862.3 L1383.4,859.9 L1385.2,857.7 L1387.0,855.8 L1388.9,854.0 L1391.0,852.4 L1393.4,850.9 L1396.2,849.5 L1399.2,848.3 L1402.4,847.1 L1405.5,846.1 L1408.7,845.3 L1411.6,844.5 L1414.4,844.0 L1416.9,843.6 L1419.3,843.3 L1421.6,843.2 L1423.9,843.3 L1426.2,843.4 L1428.3,843.7 L1430.4,844.1 L1432.5,844.6 L1434.5,845.2 L1436.4,845.9 L1438.2,846.7 L1440.0,847.6 L1441.8,848.6 L1443.5,849.8 L1445.1,851.0 L1446.6,852.3 L1447.9,853.6 L1449.2,855.0 L1450.3,856.5 L1451.4,858.2 L1452.4,859.9 L1453.3,861.8 L1454.1,863.7 L1454.8,865.6 L1455.3,867.5 L1455.7,869.3 L1455.9,870.8 L1455.9,872.3 L1455.8,873.9 L1455.5,875.5 L1455.1,877.2 L1454.5,878.7 L1453.9,880.2 L1453.3,881.5 L1452.6,882.6 L1451.9,883.4 L1451.3,884.0 L1450.6,884.6 L1449.9,885.0 L1449.1,885.3 L1448.3,885.5 L1447.4,885.6 L1446.5,885.6 L1445.4,885.5 L1444.3,885.2 L1442.9,884.7 L1441.3,884.0 L1439.5,883.1 L1437.7,882.0 L1435.8,880.7 L1434.0,879.4 L1432.3,878.0 L1430.8,876.7 L1429.6,875.4 L1428.6,874.0 L1427.6,872.5 L1426.8,870.9 L1426.0,869.2 L1425.4,867.5 L1424.9,865.8 L1424.5,864.2 L1424.3,862.6 L1424.2,861.1 L1424.3,859.7 L1424.5,858.1 L1424.9,856.6 L1425.4,855.1 L1426.0,853.6 L1426.7,852.2 L1427.5,850.8 L1428.5,849.5 L1429.5,848.4 L1430.6,847.3 L1431.8,846.4 L1433.0,845.5 L1434.4,844.6 L1435.9,843.9 L1437.6,843.1 L1439.6,842.5 L1441.7,841.8 L1444.1,841.2 L1446.7,840.7 L1449.6,840.1 L1452.7,839.6 L1456.0,839.2 L1459.4,838.8 L1463.0,838.5 L1466.6,838.4 L1470.4,838.4 L1474.2,838.6 L1478.2,839.0 L1482.3,839.5 L1486.7,840.2 L1491.2,840.9 L1495.7,841.9 L1500.3,842.9 L1504.9,844.0 L1509.5,845.2 L1513.9,846.5 L1518.4,847.9 L1522.9,849.4 L1527.5,851.0 L1532.0,852.7 L1536.6,854.5 L1541.0,856.4 L1545.4,858.3 L1549.7,860.4 L1553.8,862.5 L1557.7,864.7 L1561.5,867.0 L1565.2,869.4 L1568.8,872.0 L1572.5,874.6 L1576.1,877.3 L1579.7,879.9 L1583.4,882.6 L1587.1,885.2 L1590.5,880.2 L1586.9,877.7 L1583.2,875.0 L1579.6,872.4 L1576.0,869.7 L1572.4,867.1 L1568.6,864.4 L1564.7,861.9 L1560.8,859.4 L1556.6,857.1 L1552.3,854.9 L1547.9,852.8 L1543.4,850.8 L1538.9,848.9 L1534.2,847.0 L1529.6,845.3 L1524.9,843.7 L1520.2,842.1 L1515.7,840.7 L1511.1,839.4 L1506.4,838.1 L1501.7,837.0 L1497.0,835.9 L1492.3,835.0 L1487.7,834.2 L1483.2,833.5 L1478.8,833.0 L1474.6,832.6 L1470.5,832.4 L1466.5,832.4 L1462.7,832.5 L1458.9,832.8 L1455.3,833.1 L1451.8,833.6 L1448.6,834.2 L1445.5,834.7 L1442.7,835.4 L1440.1,836.0 L1437.7,836.7 L1435.5,837.5 L1433.4,838.4 L1431.5,839.3 L1429.7,840.4 L1428.1,841.6 L1426.6,842.8 L1425.1,844.2 L1423.8,845.7 L1422.5,847.4 L1421.4,849.2 L1420.5,851.1 L1419.7,853.0 L1419.0,855.0 L1418.6,857.0 L1418.3,859.1 L1418.2,861.1 L1418.3,863.2 L1418.6,865.2 L1419.0,867.4 L1419.7,869.5 L1420.4,871.5 L1421.4,873.6 L1422.4,875.6 L1423.6,877.5 L1425.0,879.2 L1426.5,880.9 L1428.3,882.6 L1430.3,884.2 L1432.3,885.7 L1434.5,887.1 L1436.6,888.3 L1438.7,889.4 L1440.6,890.3 L1442.5,891.0 L1444.3,891.4 L1446.1,891.7 L1447.8,891.7 L1449.5,891.5 L1451.1,891.0 L1452.6,890.4 L1454.0,889.6 L1455.3,888.6 L1456.5,887.4 L1457.5,886.0 L1458.5,884.5 L1459.4,882.7 L1460.2,880.9 L1460.9,878.9 L1461.4,876.8 L1461.8,874.7 L1462.0,872.5 L1461.9,870.4 L1461.6,868.2 L1461.2,866.0 L1460.5,863.8 L1459.7,861.6 L1458.8,859.3 L1457.7,857.1 L1456.5,855.0 L1455.2,853.0 L1453.8,851.2 L1452.3,849.5 L1450.7,847.8 L1448.9,846.3 L1447.0,844.9 L1445.0,843.5 L1443.0,842.3 L1440.8,841.2 L1438.6,840.2 L1436.3,839.4 L1434.1,838.8 L1431.7,838.2 L1429.3,837.7 L1426.8,837.4 L1424.2,837.2 L1421.6,837.2 L1418.8,837.3 L1416.1,837.6 L1413.2,838.0 L1410.3,838.6 L1407.1,839.4 L1403.8,840.3 L1400.4,841.4 L1397.0,842.6 L1393.7,844.0 L1390.5,845.6 L1387.6,847.4 L1384.9,849.4 L1382.6,851.6 L1380.6,854.2 L1378.8,856.9 L1377.2,859.8 L1375.9,862.7 L1374.8,865.6 L1373.8,868.6 L1373.2,871.5 L1372.8,874.3 L1372.7,877.2 L1373.0,879.9 L1373.6,882.6 L1374.4,885.3 L1375.4,887.8 L1376.4,890.3 L1377.4,892.8 L1378.3,895.3 L1379.1,897.8Z M1592.3,881.3 L1590.1,876.8 L1588.0,872.2 L1585.9,867.7 L1583.8,863.2 L1581.7,858.7 L1579.5,854.2 L1577.4,849.7 L1575.3,845.2 L1573.2,840.7 L1571.1,836.1 L1568.9,831.6 L1566.8,827.1 L1565.0,827.9 L1566.7,832.6 L1568.4,837.3 L1570.1,841.9 L1571.8,846.6 L1573.5,851.3 L1575.2,856.0 L1576.9,860.7 L1578.6,865.4 L1580.3,870.1 L1582.0,874.8 L1583.7,879.4 L1585.3,884.1Z M1588.7,879.0 L1584.2,879.4 L1579.7,879.8 L1575.2,880.1 L1570.8,880.5 L1566.3,880.9 L1561.8,881.3 L1557.3,881.7 L1552.9,882.1 L1548.4,882.5 L1543.9,882.9 L1539.4,883.3 L1535.0,883.7 L1535.0,885.7 L1539.5,885.8 L1544.0,885.8 L1548.5,885.9 L1553.0,885.9 L1557.5,886.0 L1562.0,886.1 L1566.5,886.1 L1571.0,886.2 L1575.5,886.3 L1580.0,886.3 L1584.4,886.4 L1588.9,886.4Z"/>
<path fill="url(#ag8)" d="M1365.4,1076.7 L1369.5,1074.8 L1373.7,1072.9 L1377.8,1070.9 L1382.0,1069.0 L1386.2,1067.1 L1390.3,1065.2 L1394.3,1063.5 L1398.3,1061.8 L1402.2,1060.3 L1406.0,1058.9 L1409.8,1057.6 L1413.5,1056.2 L1417.2,1054.9 L1420.8,1053.7 L1424.3,1052.6 L1427.8,1051.6 L1431.2,1050.7 L1434.5,1049.9 L1437.8,1049.3 L1441.0,1048.8 L1444.2,1048.4 L1447.4,1048.0 L1450.4,1047.8 L1453.4,1047.7 L1456.2,1047.8 L1458.9,1047.9 L1461.4,1048.2 L1463.8,1048.6 L1465.9,1049.1 L1467.9,1049.7 L1469.9,1050.4 L1471.7,1051.3 L1473.5,1052.2 L1475.3,1053.3 L1477.0,1054.4 L1478.8,1055.6 L1480.4,1056.8 L1482.0,1058.2 L1483.6,1059.7 L1485.1,1061.2 L1486.5,1062.9 L1488.0,1064.6 L1489.4,1066.4 L1490.8,1068.2 L1492.2,1069.9 L1493.5,1071.6 L1494.7,1073.4 L1495.9,1075.2 L1497.0,1077.0 L1498.1,1078.9 L1499.2,1080.8 L1500.4,1082.7 L1501.5,1084.6 L1502.7,1086.5 L1507.5,1083.5 L1506.3,1081.7 L1505.2,1079.8 L1504.1,1077.9 L1502.9,1076.0 L1501.8,1074.1 L1500.6,1072.2 L1499.3,1070.2 L1498.0,1068.3 L1496.6,1066.5 L1495.2,1064.7 L1493.8,1062.9 L1492.3,1061.1 L1490.8,1059.2 L1489.2,1057.4 L1487.5,1055.7 L1485.8,1054.0 L1483.9,1052.5 L1482.0,1051.0 L1480.1,1049.7 L1478.2,1048.5 L1476.2,1047.3 L1474.2,1046.3 L1472.0,1045.3 L1469.8,1044.4 L1467.4,1043.7 L1464.8,1043.1 L1462.2,1042.6 L1459.4,1042.3 L1456.4,1042.2 L1453.3,1042.1 L1450.2,1042.2 L1446.9,1042.5 L1443.6,1042.8 L1440.2,1043.2 L1436.8,1043.8 L1433.3,1044.5 L1429.8,1045.2 L1426.3,1046.2 L1422.7,1047.2 L1419.0,1048.3 L1415.3,1049.6 L1411.6,1050.9 L1407.8,1052.4 L1404.0,1054.0 L1400.2,1055.7 L1396.4,1057.5 L1392.4,1059.5 L1388.5,1061.5 L1384.5,1063.7 L1380.4,1065.9 L1376.4,1068.1 L1372.4,1070.4 L1368.4,1072.6 L1364.4,1074.7Z M1508.2,1085.3 L1508.3,1083.1 L1508.3,1080.9 L1508.3,1078.7 L1508.3,1076.5 L1508.4,1074.3 L1508.4,1072.1 L1508.4,1069.9 L1508.4,1067.8 L1508.4,1065.6 L1508.5,1063.4 L1508.5,1061.2 L1508.5,1059.0 L1506.5,1058.8 L1506.1,1061.0 L1505.7,1063.1 L1505.4,1065.3 L1505.0,1067.4 L1504.6,1069.6 L1504.2,1071.8 L1503.8,1073.9 L1503.5,1076.1 L1503.1,1078.2 L1502.7,1080.4 L1502.3,1082.6 L1502.0,1084.7Z M1506.3,1082.1 L1505.1,1081.7 L1503.8,1081.4 L1502.5,1081.1 L1501.3,1080.7 L1500.0,1080.4 L1498.7,1080.0 L1497.4,1079.7 L1496.2,1079.3 L1494.9,1079.0 L1493.6,1078.7 L1492.4,1078.3 L1491.1,1078.0 L1490.3,1079.8 L1491.4,1080.5 L1492.6,1081.2 L1493.7,1081.8 L1494.8,1082.5 L1496.0,1083.2 L1497.1,1083.9 L1498.2,1084.5 L1499.3,1085.2 L1500.5,1085.9 L1501.6,1086.6 L1502.7,1087.2 L1503.9,1087.9Z"/>
<path fill="url(#ag9)" d="M1295.9,1186.8 L1296.8,1188.5 L1297.7,1190.0 L1298.5,1191.5 L1299.4,1193.1 L1300.3,1194.7 L1301.3,1196.4 L1302.6,1198.3 L1304.0,1200.3 L1305.7,1202.5 L1307.7,1205.0 L1309.9,1207.7 L1312.3,1210.5 L1314.8,1213.5 L1317.5,1216.6 L1320.3,1219.7 L1323.2,1222.7 L1326.1,1225.6 L1329.0,1228.3 L1332.0,1230.9 L1334.9,1233.4 L1338.0,1235.8 L1341.1,1238.2 L1344.3,1240.6 L1347.5,1242.8 L1350.8,1245.0 L1354.2,1247.2 L1357.6,1249.2 L1361.0,1251.2 L1364.5,1253.1 L1368.1,1255.0 L1371.7,1256.7 L1375.4,1258.5 L1379.2,1260.1 L1383.0,1261.6 L1386.9,1263.1 L1390.8,1264.4 L1394.9,1265.6 L1399.0,1266.6 L1403.2,1267.5 L1407.5,1268.3 L1411.7,1269.1 L1416.0,1269.8 L1420.2,1270.5 L1424.3,1271.2 L1428.5,1272.0 L1429.7,1265.6 L1425.5,1264.8 L1421.3,1264.1 L1417.0,1263.4 L1412.8,1262.7 L1408.6,1261.9 L1404.5,1261.2 L1400.5,1260.3 L1396.6,1259.3 L1392.8,1258.2 L1389.0,1256.9 L1385.3,1255.6 L1381.7,1254.1 L1378.1,1252.5 L1374.5,1250.9 L1371.0,1249.2 L1367.6,1247.4 L1364.2,1245.5 L1360.8,1243.6 L1357.6,1241.6 L1354.3,1239.6 L1351.2,1237.5 L1348.1,1235.3 L1345.0,1233.0 L1342.0,1230.7 L1339.1,1228.4 L1336.2,1225.9 L1333.4,1223.5 L1330.6,1220.9 L1327.7,1218.2 L1324.9,1215.3 L1322.1,1212.4 L1319.4,1209.4 L1316.9,1206.6 L1314.5,1203.8 L1312.2,1201.2 L1310.3,1198.9 L1308.6,1196.8 L1307.3,1195.0 L1306.1,1193.3 L1305.2,1191.8 L1304.3,1190.3 L1303.4,1188.8 L1302.5,1187.2 L1301.6,1185.6 L1300.5,1184.0Z M1432.7,1267.7 L1431.8,1265.4 L1431.0,1263.0 L1430.2,1260.5 L1429.2,1257.8 L1427.8,1255.2 L1426.1,1252.6 L1423.8,1250.2 L1421.2,1248.0 L1418.5,1245.9 L1415.6,1244.0 L1412.8,1242.0 L1410.2,1240.0 L1408.8,1241.6 L1411.2,1243.9 L1413.7,1246.3 L1416.2,1248.7 L1418.5,1251.0 L1420.4,1253.3 L1421.9,1255.4 L1422.9,1257.6 L1423.6,1259.8 L1424.1,1262.1 L1424.5,1264.6 L1424.9,1267.2 L1425.5,1269.9Z M1425.8,1267.0 L1424.5,1269.8 L1423.5,1272.6 L1422.5,1275.3 L1421.4,1277.7 L1420.1,1280.0 L1418.3,1282.1 L1416.0,1284.1 L1413.0,1286.0 L1409.6,1287.9 L1406.0,1289.7 L1402.4,1291.6 L1398.9,1293.5 L1399.7,1295.3 L1403.4,1293.9 L1407.2,1292.5 L1411.1,1291.1 L1414.9,1289.7 L1418.5,1288.0 L1421.7,1285.9 L1424.3,1283.5 L1426.4,1280.8 L1428.1,1278.1 L1429.5,1275.4 L1430.9,1273.0 L1432.4,1270.6Z"/>
</g>
</svg>
<div class="line"></div>
<div class="banner"></div>
<svg width="2000" height="315" viewBox="0 1685 2000 315" style="top:1685px">
<defs><filter id="glow" x="-2%" y="-25%" width="104%" height="150%" color-interpolation-filters="sRGB">
<feMorphology in="SourceAlpha" operator="dilate" radius="0.6" result="d"/>
<feGaussianBlur in="d" stdDeviation="2.2" result="b1"/><feGaussianBlur in="d" stdDeviation="5" result="b2"/>
<feFlood flood-color="#fff" result="w"/>
<feComposite in="w" in2="b1" operator="in" result="g1"/><feComposite in="w" in2="b2" operator="in" result="g2"/>
<feMerge><feMergeNode in="g2"/><feMergeNode in="g1"/><feMergeNode in="g1"/><feMergeNode in="SourceGraphic"/></feMerge></filter></defs>
<g font-family="'Noto Sans CJK SC','Liberation Sans',sans-serif" font-weight="900" font-size="74.6" text-anchor="middle" fill="#27958a" stroke="#fff" stroke-width="4.4" stroke-linejoin="round" paint-order="stroke" filter="url(#glow)">
<text x="1005" y="1818.7">ExBrite<tspan dx="5">'</tspan>s medicine cabinet transcends the ordinary</text>
<text x="1004" y="1921.6">offering a superior bathroom storage solution.</text>
</g>
</svg>
</body></html>
